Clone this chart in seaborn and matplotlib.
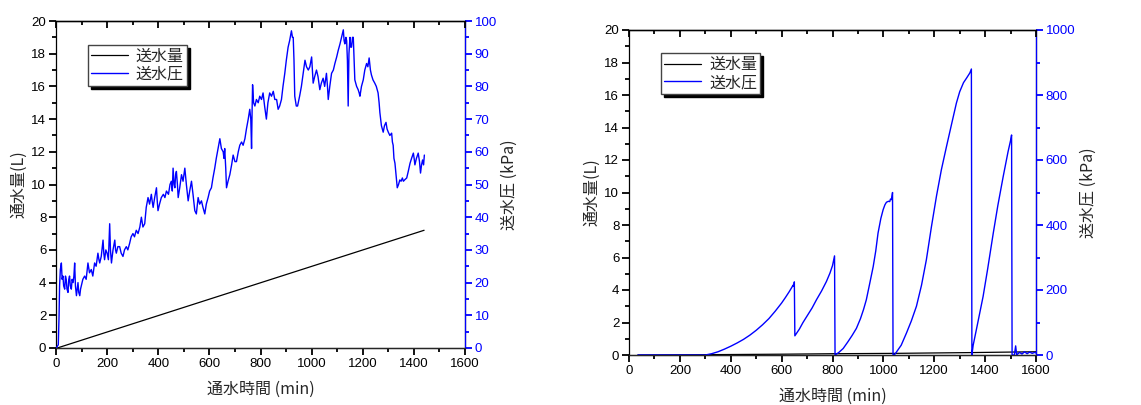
import matplotlib
matplotlib.use("Agg")
import matplotlib.pyplot as plt
import seaborn as sns
from matplotlib.ticker import MultipleLocator

# ---- left chart: 送水量 (L) / 送水圧 (kPa) vs 通水時間 (min) ----
t_flow_a = [5, 1440]
flow_a = [0.0, 7.2]

t_pres_a = [0, 4, 9, 12, 14, 17, 21, 24, 27, 30,
            34, 37, 40, 43, 47, 50, 53, 56, 60, 63,
            67, 70, 73, 76, 80, 83, 86, 89, 93, 96,
            99, 105, 112, 118, 125, 131, 138, 144, 151, 157,
            164, 168, 171, 177, 184, 187, 190, 195, 200, 205,
            210, 213, 217, 223, 230, 233, 236, 242, 249, 255,
            262, 268, 275, 281, 288, 294, 301, 307, 314, 321,
            328, 334, 340, 347, 353, 360, 366, 373, 376, 380,
            386, 393, 396, 399, 405, 412, 420, 426, 432, 440,
            446, 451, 455, 458, 462, 465, 468, 471, 475, 478,
            484, 491, 497, 504, 510, 517, 523, 530, 536, 543,
            549, 553, 556, 562, 569, 575, 582, 588, 595, 601,
            608, 614, 621, 627, 634, 641, 647, 654, 657, 660,
            664, 667, 673, 680, 687, 693, 700, 706, 713, 719,
            726, 732, 739, 745, 752, 758, 762, 765, 767, 769,
            773, 778, 784, 791, 797, 804, 810, 816, 823, 829,
            836, 843, 850, 856, 863, 869, 875, 882, 888, 895,
            901, 908, 914, 921, 925, 928, 931, 934, 940, 945,
            953, 960, 967, 974, 980, 987, 993, 1000, 1003, 1006,
            1012, 1019, 1025, 1032, 1038, 1045, 1051, 1058, 1062, 1065,
            1071, 1078, 1085, 1091, 1098, 1104, 1111, 1117, 1124, 1127,
            1130, 1134, 1137, 1140, 1143, 1146, 1150, 1153, 1156, 1160,
            1163, 1166, 1169, 1176, 1182, 1186, 1189, 1195, 1202, 1208,
            1215, 1220, 1225, 1230, 1234, 1240, 1247, 1253, 1260, 1264,
            1267, 1273, 1280, 1285, 1291, 1295, 1300, 1306, 1313, 1316,
            1319, 1322, 1326, 1330, 1335, 1340, 1345, 1350, 1355, 1359,
            1365, 1372, 1378, 1385, 1391, 1398, 1401, 1404, 1410, 1417,
            1422, 1426, 1430, 1434, 1438, 1441]
pres_a = [0, 0.4, 1, 10, 19, 24, 26, 21, 22, 19,
          18, 22, 21, 18, 17, 21, 22, 19, 18, 21,
          20, 22, 26, 19, 16, 18, 20, 17, 16, 18,
          19, 21, 22, 21, 26, 23, 24, 22, 26, 25,
          29, 27, 26, 28, 33, 29, 27, 30, 29, 27,
          38, 30, 26, 30, 33, 30, 29, 31, 31, 29,
          28, 30, 31, 30, 32, 34, 35, 34, 36, 35,
          37, 40, 37, 38, 43, 46, 44, 47, 45, 43,
          46, 49, 45, 42, 44, 46, 47, 46, 48, 47,
          50, 51, 48, 55, 50, 49, 53, 54, 50, 46,
          49, 53, 51, 55, 50, 45, 48, 51, 47, 42,
          41, 44, 46, 44, 45, 43, 41, 44, 46, 48,
          49, 52, 55, 58, 61, 64, 61, 60, 58, 61,
          55, 49, 51, 53, 56, 59, 57, 57, 60, 62,
          63, 62, 64, 67, 70, 73, 70, 61, 72, 80.5,
          75, 74, 76, 75, 77, 76, 78, 74, 70, 75,
          78, 77, 78.5, 76, 76, 73, 74, 76, 80, 84,
          88, 92, 94, 97, 95, 95, 88, 77, 74, 74,
          77, 80, 84, 88, 86, 85, 86, 89, 85, 81,
          83, 85, 83, 79, 81, 82.5, 80, 84, 80, 76,
          80, 84, 85, 87, 89, 91, 93, 95, 97.3, 94,
          93, 95, 94, 88, 74, 90, 95, 92, 92, 95,
          95, 88, 82, 80, 79, 78, 77, 80, 82, 85,
          87, 86, 88.7, 85, 83.5, 82, 81, 80, 78, 75,
          72, 68, 66, 68, 69, 67, 66, 65, 65.7, 63,
          62, 58, 56.5, 53, 49, 50, 51.4, 51, 52, 51,
          51.5, 52, 54, 56.5, 58, 59.6, 58, 56, 58, 59.6,
          57, 53.5, 56, 57.5, 56, 59]

# ---- right chart ----
t_flow_b = [35, 300, 600, 810, 1040, 1350, 1500, 1600]
flow_b = [0.0, 0.02, 0.05, 0.08, 0.10, 0.15, 0.18, 0.20]

t_pres_b = [35, 300, 325, 350, 375, 400, 425, 450, 475, 500,
            525, 550, 575, 600, 615, 630, 640, 645, 648, 650,
            652, 670, 684, 700, 720, 737, 757, 776, 790, 800,
            808, 810, 825, 842, 860, 877, 894, 910, 922, 933,
            945, 960, 970, 979, 990, 999, 1006, 1012, 1020, 1025,
            1028, 1032, 1036, 1038, 1045, 1070, 1091, 1110, 1130, 1150,
            1169, 1189, 1209, 1228, 1248, 1268, 1287, 1300, 1315, 1327,
            1340, 1346, 1348, 1353, 1370, 1392, 1410, 1432, 1450, 1471,
            1490, 1500, 1504, 1506, 1515, 1520, 1524, 1535, 1545, 1555,
            1565, 1575, 1585, 1595, 1600]
pres_b = [0, 0, 4, 10, 18, 27, 37, 48, 61, 76,
          93, 112, 135, 160, 177, 195, 208, 215, 212, 225,
          59, 80, 100, 120, 145, 170, 197, 226, 252, 275,
          305, 0, 8, 20, 40, 60, 82, 112, 140, 170,
          215, 272, 320, 375, 420, 447, 462, 470, 473, 472,
          480, 478, 500, 0, 2, 30, 68, 105, 150, 215,
          293, 395, 490, 570, 641, 710, 775, 810, 838, 852,
          868, 880, 0, 30, 95, 180, 265, 375, 460, 549,
          625, 660, 677, 0, 0, 28, 0, 8, 3, 10,
          4, 9, 5, 8, 6]

sns.set_style("ticks")
plt.rcParams["font.family"] = ["Liberation Sans", "Noto Sans CJK JP", "DejaVu Sans"]
plt.rcParams["xtick.labelsize"] = 9.5
plt.rcParams["ytick.labelsize"] = 9.5

JP = ["Noto Sans CJK JP", "DejaVu Sans"]
TW = 1.3  # tick width

fig = plt.figure(figsize=(11.41, 4.05), dpi=100)


def make_panel(rect, tf, qf, tp, qp, pmax, pmajor, pminor, leg_anchor):
    ax = fig.add_axes(rect)
    ax2 = ax.twinx()

    sns.lineplot(x=tf, y=qf, ax=ax, color="black", lw=0.9, estimator=None,
                 sort=False, label="送水量", legend=False)
    sns.lineplot(x=tp, y=qp, ax=ax2, color="blue", lw=1.0, estimator=None,
                 sort=False, label="送水圧", legend=False)

    ax.set_xlim(0, 1600)
    ax.set_ylim(0, 20)
    ax2.set_ylim(0, pmax)

    ax.xaxis.set_major_locator(MultipleLocator(200))
    ax.xaxis.set_minor_locator(MultipleLocator(100))
    ax.yaxis.set_major_locator(MultipleLocator(2))
    ax.yaxis.set_minor_locator(MultipleLocator(1))
    ax2.yaxis.set_major_locator(MultipleLocator(pmajor))
    ax2.yaxis.set_minor_locator(MultipleLocator(pminor))

    ax.tick_params(which="both", direction="out", width=TW, color="black",
                   labelcolor="black")
    ax.tick_params(which="major", length=5, pad=2)
    ax.tick_params(which="minor", length=3)
    ax.tick_params(axis="x", which="both", top=False, bottom=True)
    ax.tick_params(axis="y", which="both", left=True, right=False)

    ax2.tick_params(axis="y", which="both", direction="out", width=TW,
                    colors="blue", right=True, left=False)
    ax2.tick_params(axis="y", which="major", length=5, pad=2)
    ax2.tick_params(axis="y", which="minor", length=3)
    ax2.spines["right"].set_color("blue")
    ax2.spines["left"].set_visible(False)

    # top ticks point inward: overlay axes carrying only the top axis
    axt = fig.add_axes(rect, label="top" + str(rect[0]))
    axt.set_xlim(0, 1600)
    axt.patch.set_visible(False)
    axt.yaxis.set_visible(False)
    for side in ["left", "right", "bottom"]:
        axt.spines[side].set_visible(False)
    axt.xaxis.tick_top()
    axt.xaxis.set_major_locator(MultipleLocator(200))
    axt.xaxis.set_minor_locator(MultipleLocator(100))
    axt.tick_params(axis="x", which="both", direction="in", top=True,
                    bottom=False, labeltop=False, labelbottom=False,
                    color="black", width=TW)
    axt.tick_params(axis="x", which="major", length=5)
    axt.tick_params(axis="x", which="minor", length=3)

    for s in list(ax.spines.values()) + list(ax2.spines.values()) + list(axt.spines.values()):
        s.set_linewidth(0.9)
    ax.spines["left"].set_color("black")
    ax.spines["bottom"].set_color("black")
    axt.spines["top"].set_color("black")

    ax.set_xlabel("通水時間 (min)", family=JP, fontsize=11.5, labelpad=8)
    ax.set_ylabel("通水量(L)", family=JP, fontsize=11.5, labelpad=3)
    ax2.set_ylabel("送水圧 (kPa)", family=JP, fontsize=11.5, labelpad=3)

    h1, l1 = ax.get_legend_handles_labels()
    h2, l2 = ax2.get_legend_handles_labels()
    axt.legend(h1 + h2, l1 + l2, loc="upper left", bbox_to_anchor=leg_anchor,
               bbox_transform=ax.transAxes, borderaxespad=0, fancybox=False,
               edgecolor="#444444", framealpha=1,
               shadow={"color": "black", "alpha": 1},
               prop={"family": JP, "size": 11.5}, handlelength=2.3,
               handletextpad=0.5, labelspacing=0.05, borderpad=0.2)
    return ax, ax2


make_panel([56 / 1141, 1 - 348 / 405, 409 / 1141, 327 / 405],
           t_flow_a, flow_a, t_pres_a, pres_a, 100, 10, 5, (0.078, 0.927))
make_panel([629 / 1141, 1 - 355 / 405, 407 / 1141, 325 / 405],
           t_flow_b, flow_b, t_pres_b, pres_b, 1000, 200, 100, (0.079, 0.929))

fig.savefig("out.png", dpi=100)
